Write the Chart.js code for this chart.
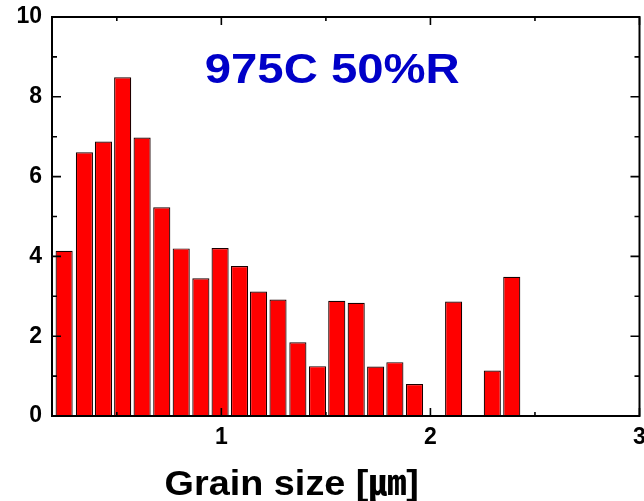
<!DOCTYPE html>
<html>
<head>
<meta charset="utf-8">
<script src="https://cdn.jsdelivr.net/npm/chart.js@4/dist/chart.umd.min.js"></script>
<style>
  html, body { margin: 0; padding: 0; background: #fff; }
  #wrap { width: 644px; height: 501px; }
</style>
</head>
<body>
<div id="wrap"><canvas id="c" width="644" height="501"></canvas></div>
<script>
// Grain size histogram: bin centres (µm) and counts
const binCenters = [0.248, 0.345, 0.436, 0.528, 0.621, 0.715, 0.808, 0.902, 0.994, 1.087,
                    1.178, 1.271, 1.366, 1.460, 1.552, 1.645, 1.738, 1.830, 1.924, 2.017,
                    2.111, 2.204, 2.296, 2.389];
const counts = [4.14, 6.61, 6.88, 8.49, 6.98, 5.23, 4.20, 3.45, 4.21, 3.76,
                3.12, 2.92, 1.85, 1.25, 2.89, 2.84, 1.24, 1.35, 0.80, null,
                2.87, null, 1.14, 3.49];

const xMajorTicks = [1, 2, 3];
const xMinorTicks = [0.5, 1.5, 2.5];
const yMajorTicks = [0, 2, 4, 6, 8, 10];
const yMinorTicks = [1, 3, 5, 7, 9];

const titleText = '975C 50%R';
const xTitleText = 'Grain size [\u339B]';

const FONT = '"Liberation Sans", Arial, "Noto Sans CJK KR", sans-serif';

// Closed frame with inward tick marks on all four sides, plus the text labels
const framePlugin = {
  id: 'frame',
  afterDatasetsDraw(chart) {
    const { ctx, chartArea: a, scales: { x, y } } = chart;
    ctx.save();
    ctx.strokeStyle = '#000';
    ctx.lineWidth = 2;
    ctx.strokeRect(a.left, a.top, a.right - a.left, a.bottom - a.top);

    ctx.lineWidth = 1.6;
    ctx.beginPath();
    const xt = (v, len) => {
      const px = x.getPixelForValue(v);
      ctx.moveTo(px, a.bottom); ctx.lineTo(px, a.bottom - len);
      ctx.moveTo(px, a.top); ctx.lineTo(px, a.top + len);
    };
    const yt = (v, len) => {
      const py = y.getPixelForValue(v);
      ctx.moveTo(a.left, py); ctx.lineTo(a.left + len, py);
      ctx.moveTo(a.right, py); ctx.lineTo(a.right - len, py);
    };
    xMajorTicks.forEach(v => xt(v, 8));
    xMinorTicks.forEach(v => xt(v, 4));
    yMajorTicks.forEach(v => yt(v, 9));
    yMinorTicks.forEach(v => yt(v, 5));
    ctx.stroke();

    // In-plot title
    const w = a.right - a.left;
    ctx.fillStyle = '#0000C8';
    ctx.font = 'bold 43px ' + FONT;
    ctx.textAlign = 'center';
    ctx.textBaseline = 'alphabetic';
    ctx.save();
    ctx.translate(a.left + w * 0.477, 83);
    ctx.scale(1.1, 1);
    ctx.fillText(titleText, 0, 0);
    ctx.restore();

    // Axis title
    ctx.fillStyle = '#000';
    ctx.font = 'bold 35px ' + FONT;
    ctx.save();
    ctx.translate(a.left + w * 0.408, 495);
    ctx.scale(1.08, 1);
    ctx.fillText(xTitleText, 0, 0);
    ctx.restore();
    ctx.restore();
  }
};

new Chart(document.getElementById('c'), {
  type: 'bar',
  data: {
    datasets: [{
      data: binCenters.map((c, i) => ({ x: c, y: counts[i] })),
      backgroundColor: '#FF0000',
      borderColor: '#1a0000',
      borderWidth: 1.2,
      borderSkipped: 'start',
      barPercentage: 0.9,
      categoryPercentage: 1.0
    }]
  },
  options: {
    responsive: false,
    animation: false,
    devicePixelRatio: 1,
    layout: { autoPadding: false, padding: { top: 17, right: 4.5, left: 0, bottom: 0 } },
    plugins: { legend: { display: false }, tooltip: { enabled: false } },
    scales: {
      x: {
        type: 'linear',
        min: 0.19,
        max: 3,
        offset: false,
        grid: { display: false, drawTicks: false },
        border: { display: false },
        afterBuildTicks: s => { s.ticks = xMajorTicks.map(v => ({ value: v })); },
        afterFit: s => { s.height = 85; s.paddingLeft = 0; s.paddingRight = 0; },
        ticks: {
          color: '#000',
          padding: 8,
          maxRotation: 0,
          font: { family: FONT, size: 23, weight: 'bold' },
          callback: v => String(v)
        }
      },
      y: {
        min: 0,
        max: 10,
        grid: { display: false, drawTicks: false },
        border: { display: false },
        afterBuildTicks: s => { s.ticks = yMajorTicks.map(v => ({ value: v })); },
        afterFit: s => { s.width = 52; s.paddingTop = 0; s.paddingBottom = 0; },
        ticks: {
          color: '#000',
          padding: 10,
          font: { family: FONT, size: 23, weight: 'bold' },
          callback: v => String(v)
        }
      }
    }
  },
  plugins: [framePlugin]
});
</script>
</body>
</html>
